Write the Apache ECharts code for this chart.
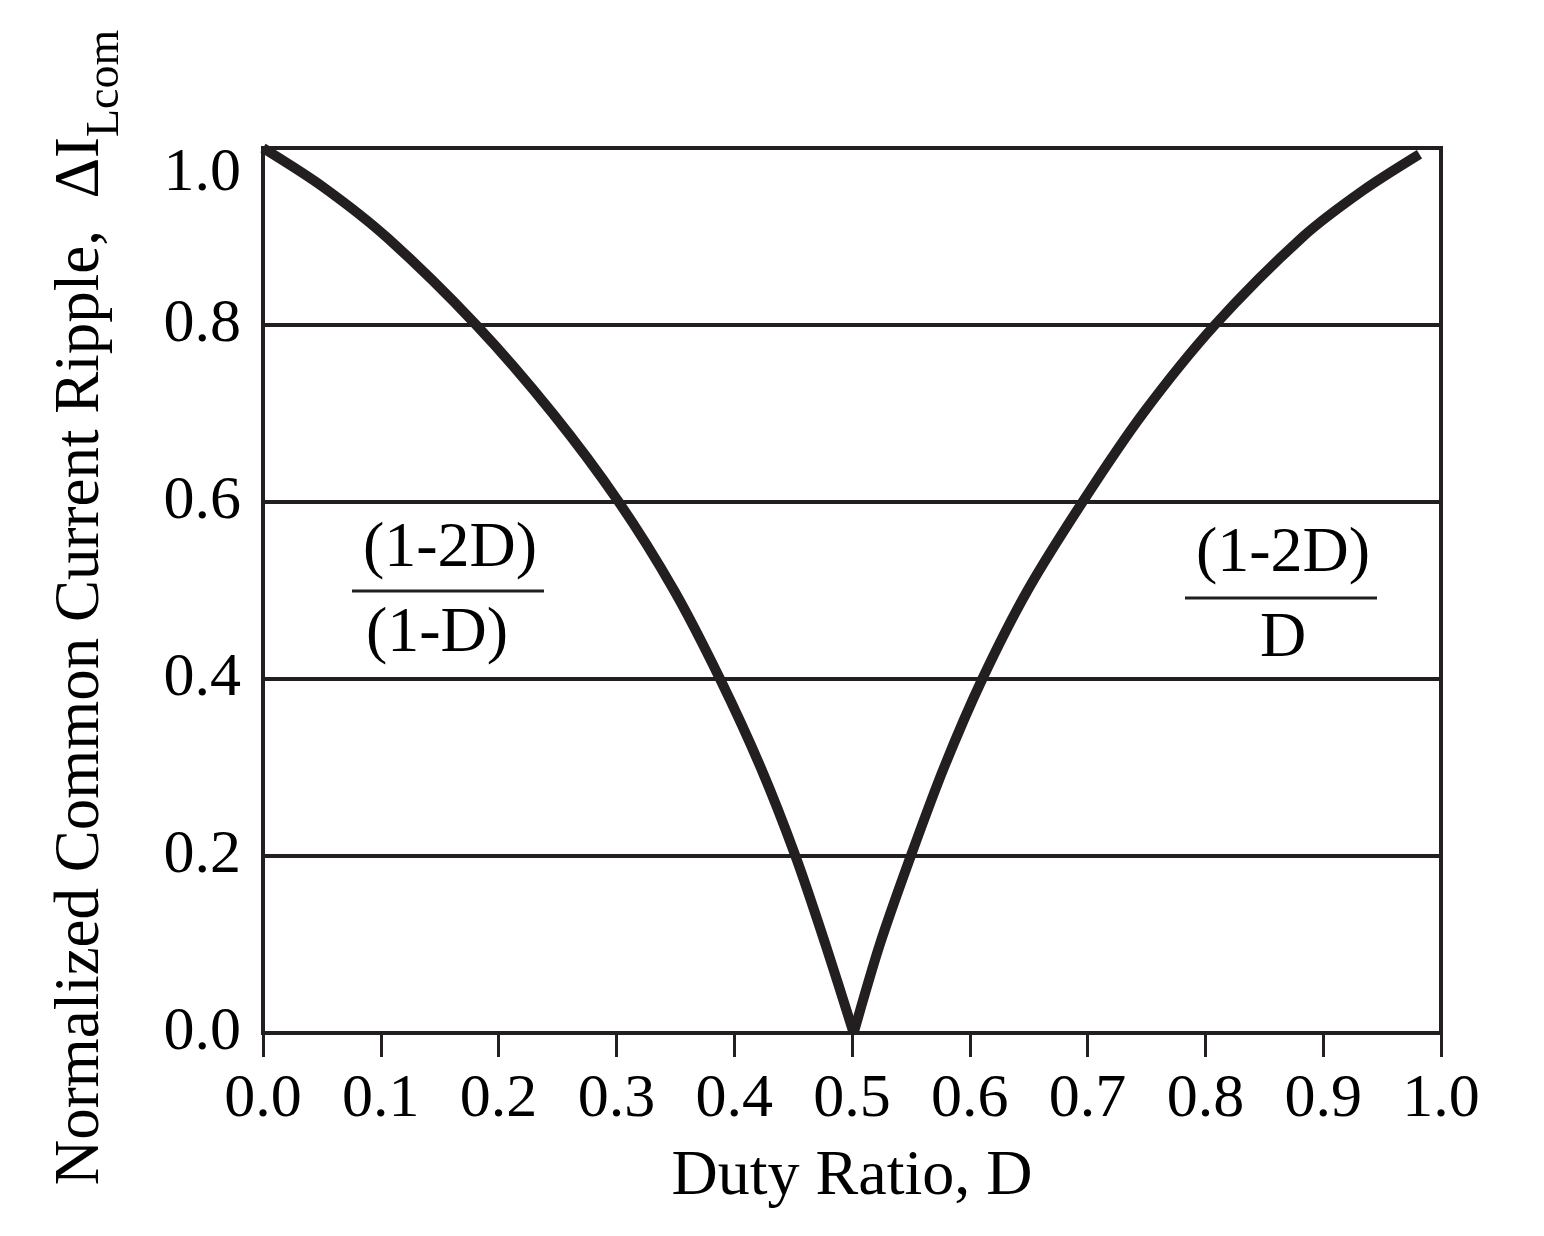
<!DOCTYPE html>
<html>
<head>
<meta charset="utf-8">
<script src="https://cdn.jsdelivr.net/npm/echarts@6/dist/echarts.min.js"></script>
<style>
  html, body { margin: 0; padding: 0; background: #fff; }
  #chart { width: 1544px; height: 1236px; }
</style>
</head>
<body>
<div id="chart"></div>
<script>
// curva (1-2D)/(1-D)
const ladoIzq = [
  [0.0, 1.0], [0.051, 0.956], [0.106, 0.898], [0.181, 0.80], [0.246, 0.70],
  [0.302, 0.60], [0.349, 0.50], [0.388, 0.40], [0.4225, 0.30], [0.452, 0.20],
  [0.4775, 0.10], [0.5014, 0.0]
];
// curva (1-2D)/D
const ladoDer = [
  [0.5014, 0.0], [0.5236, 0.10], [0.5499, 0.20], [0.5781, 0.30], [0.6106, 0.40],
  [0.649, 0.50], [0.6957, 0.60], [0.747, 0.70], [0.808, 0.80], [0.883, 0.90],
  [0.9337, 0.952], [0.9817, 0.993]
];
const xTicks = [0, 1, 0.1];
const yTicks = [0, 1, 0.2];

const negro = "#231f20";
const fuente = "Liberation Serif";

const chart = echarts.init(document.getElementById("chart"));

const option = {
  backgroundColor: "#fff",
  animation: false,
  grid: {
    left: 263, right: 103, top: 148, bottom: 203,
    show: true, borderColor: negro, borderWidth: 4
  },
  xAxis: {
    type: "value",
    min: xTicks[0], max: xTicks[1], interval: xTicks[2],
    axisLine: { show: true, lineStyle: { color: negro, width: 4 } },
    axisTick: { show: true, length: 24, lineStyle: { color: negro, width: 3 } },
    splitLine: { show: false },
    axisLabel: {
      margin: 36, color: "#000", fontFamily: fuente, fontSize: 62,
      formatter: (v) => v.toFixed(1)
    },
    name: "Duty Ratio, D",
    nameLocation: "middle",
    nameGap: 112,
    nameTextStyle: { color: "#000", fontFamily: fuente, fontSize: 64 }
  },
  yAxis: {
    type: "value",
    min: yTicks[0], max: yTicks[1], interval: yTicks[2],
    axisLine: { show: true, lineStyle: { color: negro, width: 4 } },
    axisTick: { show: false },
    splitLine: { show: true, lineStyle: { color: negro, width: 4 } },
    axisLabel: {
      margin: 22, color: "#000", fontFamily: fuente, fontSize: 62,
      formatter: (v) => (v === 1 ? "{bajo|1.0}" : v.toFixed(1)),
      rich: {
        bajo: { fontFamily: fuente, fontSize: 62, color: "#000", padding: [52, 0, 0, 0] }
      }
    },
    name: "{a|Normalized Common Current Ripple,  ΔI}{s|Lcom}",
    nameLocation: "middle",
    nameRotate: 90,
    nameGap: 134,
    nameTextStyle: {
      color: "#000", fontFamily: fuente,
      padding: [0, 34, 0, 0],
      rich: {
        a: { fontSize: 63, fontFamily: fuente, color: "#000", verticalAlign: "bottom", padding: [0, 0, 16, 0] },
        s: { fontSize: 46, fontFamily: fuente, color: "#000", verticalAlign: "bottom" }
      }
    }
  },
  series: [
    {
      type: "line", data: ladoIzq, smooth: 0.3, symbol: "none",
      lineStyle: { color: negro, width: 10, cap: "butt" }
    },
    {
      type: "line", data: ladoDer, smooth: 0.3, symbol: "none",
      lineStyle: { color: negro, width: 10, cap: "butt" }
    }
  ],
  graphic: [
    { type: "text", x: 450, y: 549, style: { text: "(1-2D)", font: "64px 'Liberation Serif'", fill: "#000", align: "center", verticalAlign: "middle" } },
    { type: "line", shape: { x1: 352, y1: 591, x2: 544, y2: 591 }, style: { stroke: negro, lineWidth: 3 } },
    { type: "text", x: 437, y: 634, style: { text: "(1-D)", font: "64px 'Liberation Serif'", fill: "#000", align: "center", verticalAlign: "middle" } },
    { type: "text", x: 1283, y: 554, style: { text: "(1-2D)", font: "64px 'Liberation Serif'", fill: "#000", align: "center", verticalAlign: "middle" } },
    { type: "line", shape: { x1: 1185, y1: 598, x2: 1377, y2: 598 }, style: { stroke: negro, lineWidth: 3 } },
    { type: "text", x: 1283, y: 639, style: { text: "D", font: "64px 'Liberation Serif'", fill: "#000", align: "center", verticalAlign: "middle" } }
  ]
};

chart.setOption(option);
</script>
</body>
</html>
